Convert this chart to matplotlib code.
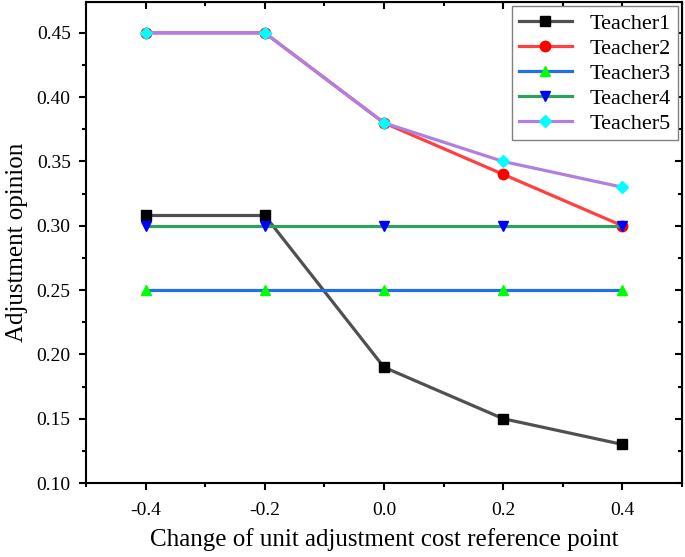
import numpy as np
import matplotlib.pyplot as plt
from matplotlib.ticker import MultipleLocator

x = [-0.4, -0.2, 0.0, 0.2, 0.4]
teacher1 = [0.308, 0.308, 0.19, 0.15, 0.13]
teacher2 = [0.45, 0.45, 0.38, 0.34, 0.30]
teacher3 = [0.25, 0.25, 0.25, 0.25, 0.25]
teacher4 = [0.30, 0.30, 0.30, 0.30, 0.30]
teacher5 = [0.45, 0.45, 0.38, 0.35, 0.33]
nomes = ["Teacher1", "Teacher2", "Teacher3", "Teacher4", "Teacher5"]
xticks = [-0.4, -0.2, 0.0, 0.2, 0.4]
xlabels = ["-0.4", "-0.2", "0.0", "0.2", "0.4"]
yticks = [0.10, 0.15, 0.20, 0.25, 0.30, 0.35, 0.40, 0.45]
ylabels = ["0.10", "0.15", "0.20", "0.25", "0.30", "0.35", "0.40", "0.45"]

plt.rcParams['font.family'] = ['Liberation Serif', 'DejaVu Serif']

fig = plt.figure(figsize=(6.85, 5.57), dpi=100)
# eixos: esquerda 86px, direita 682px, topo 2px, base 483px
ax = fig.add_axes([86/685, 1 - 483/557, 596/685, 481/557])

estilos = [
    (teacher1, '#505050', 's', 'black'),
    (teacher2, '#FF4040', 'o', 'red'),
    (teacher3, '#2070E8', '^', '#00FF00'),
    (teacher4, '#30A060', 'v', '#0000FF'),
    (teacher5, '#B07FE0', 'D', '#00FFFF'),
]
for (serie, cor, marc, cor_m), nome in zip(estilos, nomes):
    ms = 6.5 if marc == 'D' else 7.5
    ax.plot(x, serie, color=cor, lw=2.3, marker=marc, ms=ms,
            markerfacecolor=cor_m, markeredgecolor=cor_m, label=nome)

ax.set_xlim(-0.5, 0.5)
ax.set_ylim(0.10, 0.474)
ax.set_xticks(xticks)
ax.set_xticklabels(xlabels)
ax.set_yticks(yticks)
ax.set_yticklabels(ylabels)
ax.xaxis.set_minor_locator(MultipleLocator(0.1))
ax.yaxis.set_minor_locator(MultipleLocator(0.025))

ax.tick_params(which='both', direction='out', width=1.5, labelsize=14, top=False, right=False)
ax.tick_params(which='major', length=5)
ax.tick_params(which='minor', length=3)
ax.tick_params(axis='x', which='major', pad=9)
ax.tick_params(axis='y', which='major', pad=6)
for s in ax.spines.values():
    s.set_linewidth(1.5)

# ticks internos no topo e na direita
ax2 = ax.secondary_xaxis('top')
ax2.set_xticks(xticks)
ax2.xaxis.set_minor_locator(MultipleLocator(0.1))
ax2.tick_params(which='both', direction='in', width=1.5, labeltop=False)
ax2.tick_params(which='major', length=5)
ax2.tick_params(which='minor', length=3)
ax3 = ax.secondary_yaxis('right')
ax3.set_yticks(yticks)
ax3.yaxis.set_minor_locator(MultipleLocator(0.025))
ax3.tick_params(which='both', direction='in', width=1.5, labelright=False)
ax3.tick_params(which='major', length=5)
ax3.tick_params(which='minor', length=3)

ax.set_xlabel("Change of unit adjustment cost reference point", fontsize=18, labelpad=6)
ax.set_ylabel("Adjustment opinion", fontsize=18, labelpad=6)

leg = ax.legend(loc='upper right', fontsize=16, fancybox=False, framealpha=1,
                edgecolor='gray', borderaxespad=0.2, handlelength=2.4,
                labelspacing=0.2, borderpad=0.3, handletextpad=0.8)

fig.savefig("out.png", dpi=100)
